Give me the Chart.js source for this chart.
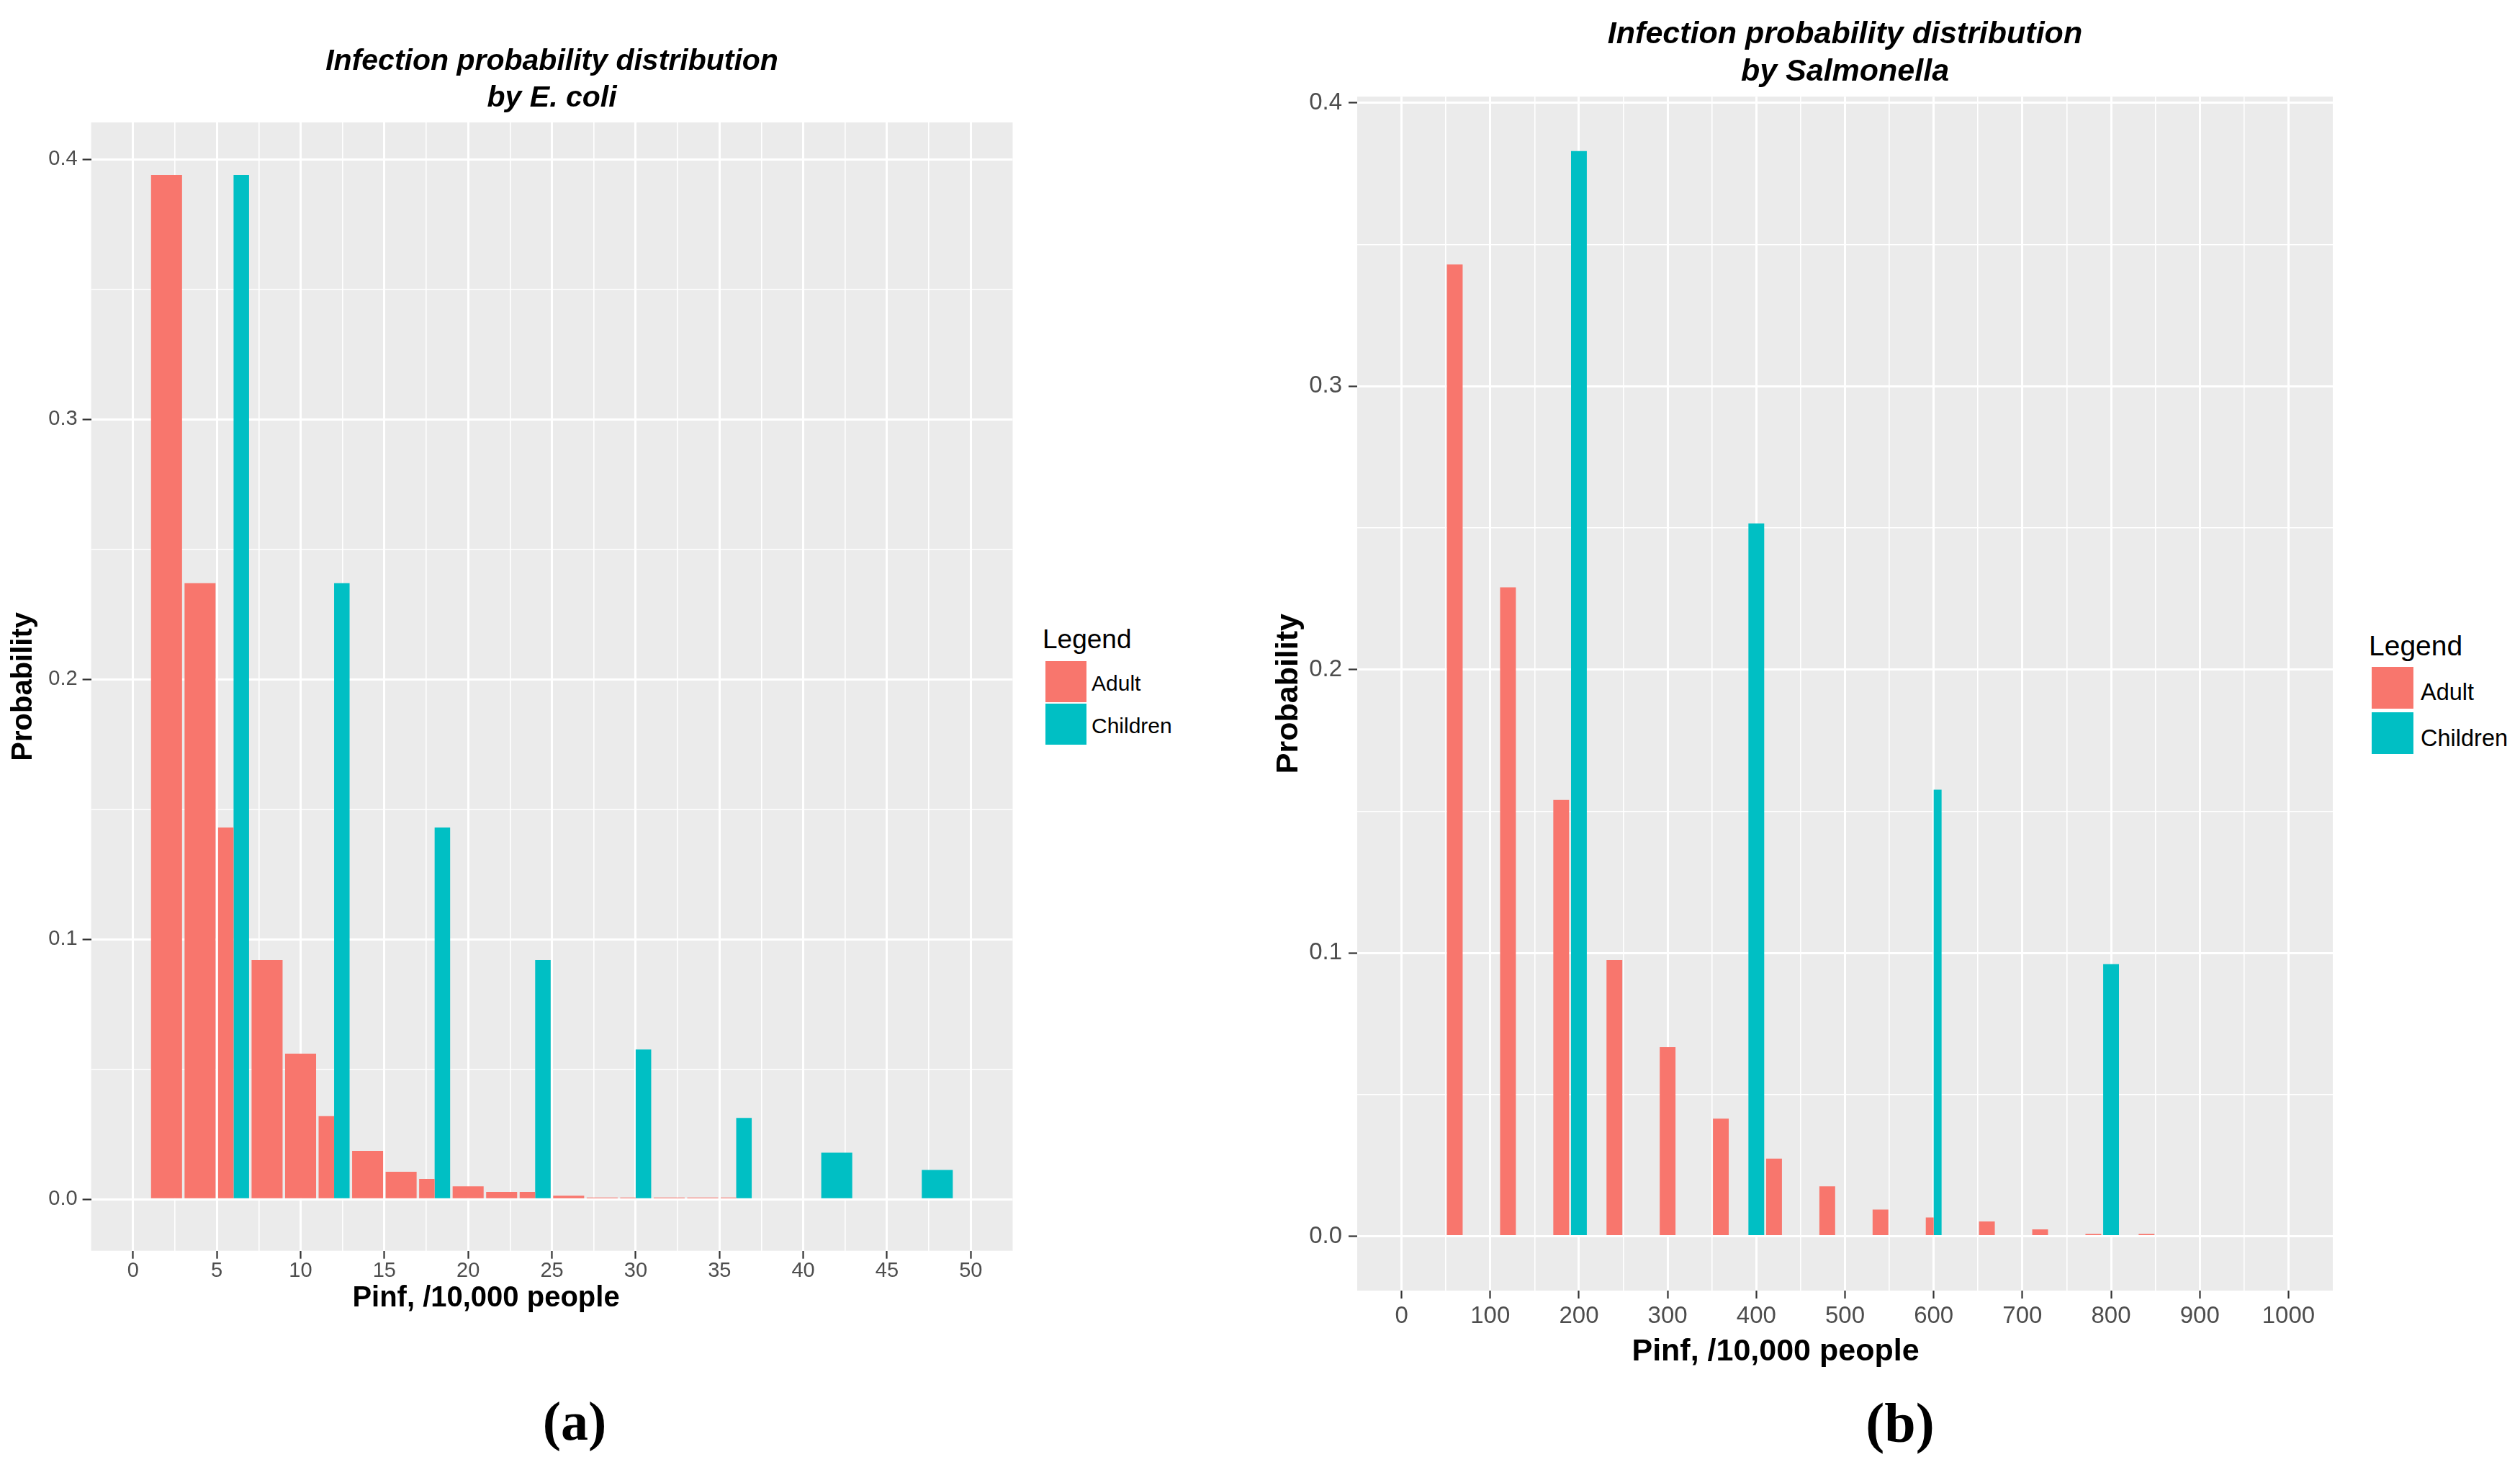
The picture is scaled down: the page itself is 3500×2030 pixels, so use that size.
<!DOCTYPE html>
<html>
<head>
<meta charset="utf-8">
<script src="https://cdn.jsdelivr.net/npm/chart.js@4.4.1/dist/chart.umd.min.js"></script>
<style>
html, body { margin: 0; padding: 0; background: #ffffff; }
body { position: relative; width: 3500px; height: 2030px; overflow: hidden; font-family: 'Liberation Sans', Arial, sans-serif; }
canvas { position: absolute; top: 0; }
.lg { position: absolute; line-height: 1; white-space: nowrap; color: #000; }
.key { position: absolute; }
.cap { position: absolute; font-family: 'Liberation Serif', 'Times New Roman', serif; font-weight: bold; line-height: 1; width: 200px; text-align: center; color: #000; }
</style>
</head>
<body>
<canvas id="chartA" width="1420" height="2030" style="left:0px"></canvas>
<canvas id="chartB" width="1550" height="2030" style="left:1700px"></canvas>
<div id="legends"></div>
<script>
// ---------- data ----------
const seriesNames = ['Adult', 'Children'];
const seriesColors = ['#F8766D', '#00BFC4'];
const legendTitle = 'Legend';

// Panel (a): E. coli
const ecoliTitle = ['Infection probability distribution', 'by E. coli'];
const ecoliX = [2, 4, 6, 8, 10, 12, 14, 16, 18, 20, 22, 24, 26, 28, 30, 32, 34, 36, 42, 48];
const ecoliAdult = [0.394, 0.237, 0.143, 0.092, 0.056, 0.032, 0.0186, 0.0106, 0.0078, 0.005, 0.0028, 0.0028, 0.0014, 0.0007, 0.0007, 0.0007, 0.0007, 0.0007, null, null];
const ecoliChildren = [null, null, 0.394, null, null, 0.237, null, null, 0.143, null, null, 0.092, null, null, 0.0576, null, null, 0.0313, 0.0179, 0.0113];
const ecoliXTicks = [0, 5, 10, 15, 20, 25, 30, 35, 40, 45, 50];
const ecoliXTickLabels = ['0', '5', '10', '15', '20', '25', '30', '35', '40', '45', '50'];

// Panel (b): Salmonella
const salmTitle = ['Infection probability distribution', 'by Salmonella'];
const salmX = [60, 120, 180, 200, 240, 300, 360, 400, 420, 480, 540, 600, 660, 720, 780, 800, 840];
const salmAdult = [0.343, 0.229, 0.154, null, 0.0975, 0.0667, 0.0415, null, 0.0274, 0.0176, 0.0094, 0.0066, 0.0052, 0.0024, 0.0008, null, 0.0008];
const salmChildren = [null, null, null, 0.383, null, null, null, 0.2516, null, null, null, 0.1576, null, null, null, 0.096, null];
const salmXTicks = [0, 100, 200, 300, 400, 500, 600, 700, 800, 900, 1000];
const salmXTickLabels = ['0', '100', '200', '300', '400', '500', '600', '700', '800', '900', '1000'];

const probTicks = [0, 0.1, 0.2, 0.3, 0.4];
const probTickLabels = ['0.0', '0.1', '0.2', '0.3', '0.4'];
const xAxisTitle = 'Pinf, /10,000 people';
const yAxisTitle = 'Probability';
const panelCaptions = ['(a)', '(b)'];

// ---------- helpers ----------
const FONT = "'Liberation Sans', Arial, sans-serif";
Chart.defaults.font.family = FONT;

function tickSet(majors) {
  const t = majors.map(v => ({ value: v, minor: false }));
  for (let i = 0; i + 1 < majors.length; i++) {
    t.push({ value: (majors[i] + majors[i + 1]) / 2, minor: true });
  }
  return t.sort((a, b) => a.value - b.value);
}
function labelFor(majors, labels) {
  return function (value, index, ticks) {
    const t = ticks[index];
    if (t && t.minor) return '';
    const k = majors.indexOf(value);
    return k >= 0 ? labels[k] : '';
  };
}
const isMinor = (c) => c.tick && c.tick.minor;

const panelBg = {
  id: 'panelBg',
  beforeDraw(chart) {
    const { ctx, chartArea: a } = chart;
    ctx.save();
    ctx.fillStyle = '#EBEBEB';
    ctx.fillRect(a.left, a.top, a.right - a.left, a.bottom - a.top);
    ctx.restore();
  }
};

// x-axis title placed like the original figure (slightly left of the panel centre)
const xTitlePlugin = {
  id: 'xTitleText',
  afterDraw(chart, args, o) {
    if (!o || !o.text) return;
    const ctx = chart.ctx;
    ctx.save();
    ctx.font = `bold ${o.size}px ${FONT}`;
    ctx.fillStyle = '#000000';
    ctx.textAlign = 'center';
    ctx.textBaseline = 'middle';
    ctx.fillText(o.text, o.x, o.y);
    ctx.restore();
  }
};

function makePanel(id, p) {
  const ds = (k, vals) => ({
    label: seriesNames[k],
    data: p.x.map((x, i) => ({ x: x, y: vals[i] })),
    backgroundColor: seriesColors[k],
    borderWidth: 0,
    skipNull: true,
    grouped: true,
    categoryPercentage: p.catPct,
    barPercentage: 1.0
  });
  return new Chart(document.getElementById(id), {
    type: 'bar',
    data: { datasets: [ds(0, p.adult), ds(1, p.children)] },
    options: {
      responsive: false,
      maintainAspectRatio: false,
      devicePixelRatio: 1,
      animation: false,
      events: [],
      layout: { padding: { left: 0, top: 0, right: p.padRight, bottom: p.padBottom } },
      plugins: {
        legend: { display: false },
        tooltip: { enabled: false },
        title: {
          display: true,
          text: p.title,
          fullSize: false,
          color: '#000000',
          font: { family: FONT, size: p.titleSize, weight: 'bold', style: 'italic', lineHeight: p.titleLH },
          padding: { top: p.titlePadTop, bottom: p.titlePadBottom }
        },
        xTitleText: { text: xAxisTitle, size: p.axisTitleSize, x: p.xTitleX, y: p.xTitleY }
      },
      scales: {
        x: {
          type: 'linear',
          min: p.xMin, max: p.xMax,
          offset: false,
          bounds: 'data',
          afterBuildTicks: (s) => { s.ticks = tickSet(p.xTicks); },
          afterFit: (s) => { s.height = p.xAxisHeight; },
          border: { display: false },
          grid: {
            offset: false,
            color: '#FFFFFF',
            lineWidth: (c) => isMinor(c) ? 1.6 : 3,
            drawTicks: true,
            tickLength: 11,
            tickColor: (c) => isMinor(c) ? 'rgba(0,0,0,0)' : '#333333',
            tickWidth: 2.2
          },
          ticks: {
            autoSkip: false, maxRotation: 0, minRotation: 0,
            padding: p.xTickPad,
            color: '#4D4D4D',
            font: { family: FONT, size: p.tickSize, lineHeight: 1 },
            callback: labelFor(p.xTicks, p.xTickLabels)
          },
          title: { display: false }
        },
        y: {
          type: 'linear',
          min: p.yMin, max: p.yMax,
          bounds: 'data',
          afterBuildTicks: (s) => { s.ticks = tickSet(probTicks); },
          afterFit: (s) => { s.width = p.yAxisWidth; },
          border: { display: false },
          grid: {
            color: '#FFFFFF',
            lineWidth: (c) => isMinor(c) ? 1.6 : 3,
            drawTicks: true,
            tickLength: 12,
            tickColor: (c) => isMinor(c) ? 'rgba(0,0,0,0)' : '#333333',
            tickWidth: 2.2
          },
          ticks: {
            autoSkip: false,
            padding: p.yTickPad,
            color: '#4D4D4D',
            font: { family: FONT, size: p.tickSize },
            callback: labelFor(probTicks, probTickLabels)
          },
          title: {
            display: true, text: yAxisTitle, color: '#000000',
            font: { family: FONT, size: p.axisTitleSize, weight: 'bold', lineHeight: 1.2 },
            padding: { top: p.yTitlePadTop, bottom: 0 }
          }
        }
      }
    },
    plugins: [panelBg, xTitlePlugin]
  });
}

makePanel('chartA', {
  x: ecoliX, adult: ecoliAdult, children: ecoliChildren,
  xTicks: ecoliXTicks, xTickLabels: ecoliXTickLabels,
  title: ecoliTitle,
  xMin: -2.5, xMax: 52.5, yMin: -0.0198, yMax: 0.4142,
  catPct: 0.925,
  padRight: 13.5, padBottom: 173.3,
  yAxisWidth: 126.6, xAxisHeight: 120,
  titleSize: 41, titleLH: 51 / 41, titlePadTop: 60, titlePadBottom: 8,
  tickSize: 29, xTickPad: 3, yTickPad: 7,
  axisTitleSize: 40, xTitleX: 675, xTitleY: 1803, yTitlePadTop: 9
});

makePanel('chartB', {
  x: salmX, adult: salmAdult, children: salmChildren,
  xTicks: salmXTicks, xTickLabels: salmXTickLabels,
  title: salmTitle,
  xMin: -50, xMax: 1050, yMin: -0.0192, yMax: 0.4022,
  catPct: 0.89,
  padRight: 10, padBottom: 118,
  yAxisWidth: 185, xAxisHeight: 120,
  titleSize: 43, titleLH: 1.19, titlePadTop: 22.9, titlePadBottom: 9,
  tickSize: 33, xTickPad: 8, yTickPad: 9,
  axisTitleSize: 43, xTitleX: 766, xTitleY: 1877, yTitlePadTop: 64.2
});

// ---------- HTML legends and panel captions ----------
const legendLayouts = [
  { titleSize: 37, titleLeft: 1448, titleTop: 868.7, keyLeft: 1452, keyTops: [918, 977], keySize: 57, textSize: 30, textLeft: 1516, textTops: [933.6, 992.6] },
  { titleSize: 39, titleLeft: 3290, titleTop: 877, keyLeft: 3294, keyTops: [926, 989], keySize: 58, textSize: 32.5, textLeft: 3362, textTops: [945.2, 1008.5] }
];
const captionLayouts = [
  { size: 76, left: 698, top: 1935 },
  { size: 78, left: 2539, top: 1937 }
];
const host = document.getElementById('legends');
legendLayouts.forEach((L) => {
  const t = document.createElement('div');
  t.className = 'lg';
  t.textContent = legendTitle;
  t.style.cssText = `left:${L.titleLeft}px;top:${L.titleTop}px;font-size:${L.titleSize}px;`;
  host.appendChild(t);
  seriesNames.forEach((name, k) => {
    const key = document.createElement('div');
    key.className = 'key';
    key.style.cssText = `left:${L.keyLeft}px;top:${L.keyTops[k]}px;width:${L.keySize}px;height:${L.keySize}px;background:${seriesColors[k]};`;
    host.appendChild(key);
    const lab = document.createElement('div');
    lab.className = 'lg';
    lab.textContent = name;
    lab.style.cssText = `left:${L.textLeft}px;top:${L.textTops[k]}px;font-size:${L.textSize}px;`;
    host.appendChild(lab);
  });
});
captionLayouts.forEach((C, i) => {
  const c = document.createElement('div');
  c.className = 'cap';
  c.textContent = panelCaptions[i];
  c.style.cssText = `left:${C.left}px;top:${C.top}px;font-size:${C.size}px;`;
  host.appendChild(c);
});
</script>
</body>
</html>
